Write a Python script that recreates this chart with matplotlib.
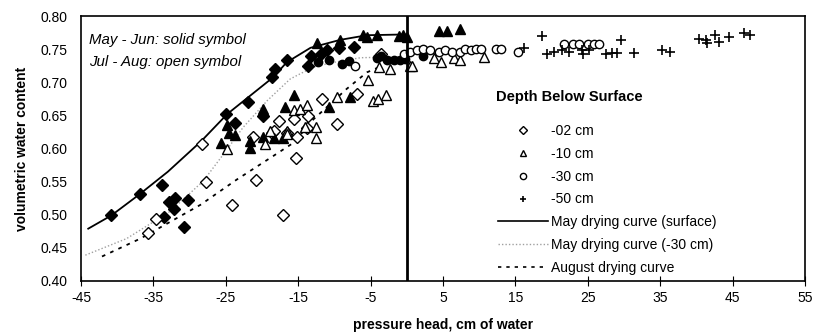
import matplotlib
matplotlib.use("Agg")
import matplotlib.pyplot as plt
from matplotlib.lines import Line2D

plt.rcParams['font.family'] = ['Liberation Sans', 'DejaVu Sans']
plt.rcParams['axes.unicode_minus'] = False

# May-Jun (solid symbols)
may_02_x = [-40.8, -36.9, -33.8, -33.6, -32.9, -32.1, -32.0, -30.8, -30.2, -25.0, -23.7,
            -21.9, -19.8, -18.6, -18.2, -16.6, -13.6, -13.3, -11.9, -11.0, -9.4, -7.3]
may_02_y = [0.499, 0.531, 0.545, 0.497, 0.520, 0.508, 0.526, 0.481, 0.522, 0.652, 0.638,
            0.670, 0.649, 0.708, 0.720, 0.734, 0.725, 0.740, 0.743, 0.748, 0.751, 0.753]
may_10_x = [-25.6, -24.8, -24.6, -23.7, -21.6, -21.6, -19.8, -19.8, -18.3, -17.1, -16.8,
            -15.6, -12.4, -10.8, -9.2, -7.8, -6.0, -5.5, -4.1, -1.1, -0.5, 0.0, 4.4, 5.5, 7.4]
may_10_y = [0.609, 0.636, 0.623, 0.620, 0.611, 0.601, 0.659, 0.617, 0.616, 0.616, 0.662,
            0.680, 0.759, 0.663, 0.764, 0.677, 0.771, 0.768, 0.771, 0.770, 0.771, 0.768,
            0.778, 0.778, 0.781]
may_30_x = [-12.2, -10.8, -8.9, -8.0, -4.1, -3.6, -2.7, -1.8, -0.9, -0.3, 2.3]
may_30_y = [0.730, 0.733, 0.728, 0.732, 0.736, 0.740, 0.733, 0.734, 0.733, 0.735, 0.740]

# Jul-Aug (open symbols)
jul_02_x = [-35.8, -34.7, -28.3, -27.7, -24.1, -21.2, -20.8, -18.6, -18.3, -17.7, -17.1,
            -16.6, -15.6, -15.3, -15.2, -13.8, -13.6, -11.7, -9.6, -6.9, -3.6]
jul_02_y = [0.473, 0.494, 0.607, 0.549, 0.515, 0.618, 0.552, 0.624, 0.627, 0.641, 0.499,
            0.623, 0.644, 0.586, 0.617, 0.631, 0.649, 0.675, 0.637, 0.682, 0.743]
jul_10_x = [-24.8, -19.6, -18.9, -16.6, -16.6, -15.6, -14.7, -14.0, -13.8, -12.6, -12.6,
            -9.6, -4.6, -4.0, -2.9, -5.3, -3.9, -2.3, 0.5, 0.7, 3.7, 4.7, 6.5, 7.4, 10.6]
jul_10_y = [0.600, 0.607, 0.627, 0.627, 0.622, 0.658, 0.659, 0.632, 0.665, 0.632, 0.616,
            0.677, 0.672, 0.675, 0.680, 0.703, 0.723, 0.720, 0.725, 0.725, 0.736, 0.730,
            0.736, 0.733, 0.738]
jul_30_x = [-7.1, -0.4, 0.5, 1.4, 2.3, 3.2, 4.4, 5.3, 6.2, 7.4, 8.1, 8.8, 9.5, 10.2,
            12.3, 13.0, 15.3, 21.7, 22.9, 23.8, 25.0, 25.9, 26.6]
jul_30_y = [0.725, 0.742, 0.745, 0.748, 0.750, 0.748, 0.745, 0.749, 0.746, 0.745, 0.750,
            0.749, 0.750, 0.750, 0.750, 0.750, 0.746, 0.757, 0.757, 0.757, 0.758, 0.758, 0.758]

# -50 cm
d50_x = [16.2, 18.7, 19.4, 20.3, 21.5, 22.4, 24.2, 24.4, 25.2, 27.5, 28.4, 29.0, 29.6,
         31.4, 35.3, 36.3, 40.4, 41.3, 41.5, 42.5, 43.1, 44.5, 46.6, 47.4]
d50_y = [0.752, 0.770, 0.743, 0.745, 0.748, 0.745, 0.748, 0.743, 0.748, 0.743, 0.744,
         0.744, 0.764, 0.744, 0.748, 0.745, 0.766, 0.764, 0.759, 0.771, 0.761, 0.769,
         0.774, 0.772]

# drying curves
surf_x = [-44, -40.8, -36.9, -33, -28.4, -24.8, -21.6, -18.4, -16.6, -13.3, -9.2, -5.5, -0.9, 0]
surf_y = [0.479, 0.499, 0.531, 0.565, 0.611, 0.652, 0.680, 0.708, 0.730, 0.752, 0.764, 0.771, 0.772, 0.772]
m30_x = [-44.4, -38.7, -32.7, -28.1, -24.8, -22.6, -19.3, -16.1, -12.9, -10.1, -6.4, -2.7, 0]
m30_y = [0.439, 0.464, 0.505, 0.551, 0.599, 0.632, 0.672, 0.705, 0.723, 0.730, 0.737, 0.738, 0.738]
aug_x = [-42.1, -36.8, -28.5, -23.5, -18.4, -15.6, -12.9, -8.3, -5.5, -4.0]
aug_y = [0.437, 0.464, 0.515, 0.553, 0.589, 0.609, 0.644, 0.690, 0.715, 0.722]

fig = plt.figure(figsize=(8.13, 3.33), dpi=100)
ax = fig.add_axes([81 / 813, 1 - 281 / 333, 724 / 813, 265 / 333])

ax.plot(surf_x, surf_y, color='black', lw=1.3)
ax.plot(m30_x, m30_y, color='#a0a0a0', lw=1.0, linestyle=(0, (1, 1.5)))
ax.plot(aug_x, aug_y, color='black', lw=1.3, linestyle=(0, (2, 3)))

ms = 6
ax.plot(may_02_x, may_02_y, 'D', color='black', ms=ms, ls='none')
ax.plot(jul_02_x, jul_02_y, 'D', mfc='white', mec='black', mew=1, ms=ms, ls='none')
ax.plot(may_10_x, may_10_y, '^', color='black', ms=ms + 1, ls='none')
ax.plot(jul_10_x, jul_10_y, '^', mfc='white', mec='black', mew=1, ms=ms + 1, ls='none')
ax.plot(may_30_x, may_30_y, 'o', color='black', ms=ms, ls='none')
ax.plot(jul_30_x, jul_30_y, 'o', mfc='white', mec='black', mew=1, ms=ms, ls='none')
ax.plot(d50_x, d50_y, '+', color='black', mew=1.2, ms=ms + 1, ls='none')

ax.axvline(0, color='black', lw=2)

ax.set_xlim(-45, 55)
ax.set_ylim(0.40, 0.80)
ax.set_xticks(range(-45, 56, 10))
ax.set_yticks([0.40, 0.45, 0.50, 0.55, 0.60, 0.65, 0.70, 0.75, 0.80])
ax.set_yticklabels(['%.2f' % v for v in ax.get_yticks()])
ax.tick_params(axis='x', direction='inout', length=7, labelsize=10, pad=4)
ax.tick_params(axis='y', direction='out', length=0, labelsize=10, pad=10)
for s in ax.spines.values():
    s.set_linewidth(1.2)

ax.set_xlabel('pressure head, cm of water', fontsize=10, fontweight='bold', labelpad=9)
ax.set_ylabel('volumetric water content', fontsize=10, fontweight='bold', labelpad=8)

ax.text(-43.9, 0.764, 'May - Jun: solid symbol', fontsize=10.8, style='italic', va='center')
ax.text(-43.9, 0.731, 'Jul - Aug: open symbol', fontsize=10.8, style='italic', va='center')
ax.text(12.3, 0.678, 'Depth Below Surface', fontsize=10.5, fontweight='bold', va='center')

handles = [
    Line2D([], [], marker='D', mfc='white', mec='black', ms=4, ls='none'),
    Line2D([], [], marker='^', mfc='white', mec='black', ms=5, ls='none'),
    Line2D([], [], marker='o', mfc='white', mec='black', ms=4.5, ls='none'),
    Line2D([], [], marker='+', color='black', ms=5, mew=1.2, ls='none'),
    Line2D([], [], color='black', lw=1.2),
    Line2D([], [], color='#a0a0a0', lw=1.0, linestyle=(0, (1, 1.5))),
    Line2D([], [], color='black', lw=1.2, linestyle=(0, (2, 3))),
]
labels = ['-02 cm', '-10 cm', '-30 cm', '-50 cm', 'May drying curve (surface)',
          'May drying curve (-30 cm)', 'August drying curve']
leg = ax.legend(handles, labels, loc='upper left',
                bbox_to_anchor=(0.576, 0.592), frameon=False, fontsize=10,
                handlelength=3.6, handletextpad=0.2, labelspacing=0.63,
                borderpad=0, borderaxespad=0)

fig.savefig('out.png', dpi=100)
